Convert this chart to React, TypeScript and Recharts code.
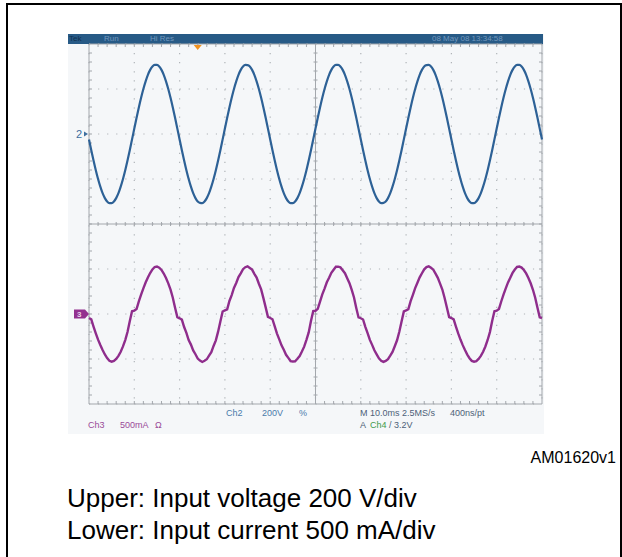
import React from "react";
import {
  LineChart,
  Line,
  XAxis,
  YAxis,
  CartesianGrid,
  ReferenceLine,
  ReferenceDot,
} from "recharts";

// sampling step of both traces, ms
const SAMPLE_MS = 0.5;

// time axis: 10 ms/div, 10 divisions
const TIME_TICKS = [0, 10, 20, 30, 40, 50, 60, 70, 80, 90, 100];

// Ch2, input voltage (V), every 0.5 ms
const VOLTAGE = [
  -24, -72, -118, -161, -200, -234, -263, -285, -300, -307, -307, -300, -285, -263, -234, -200, -161, -118, -72, -24,
  24, 72, 118, 161, 200, 234, 263, 285, 300, 307, 307, 300, 285, 263, 234, 200, 161, 118, 72, 24,
  -24, -72, -118, -161, -200, -234, -263, -285, -300, -306, -307, -300, -285, -263, -234, -200, -161, -118, -72, -24,
  24, 72, 118, 161, 200, 234, 263, 285, 300, 307, 306, 300, 285, 263, 234, 200, 161, 118, 72, 24,
  -24, -72, -118, -161, -200, -234, -263, -285, -300, -307, -307, -300, -285, -263, -234, -200, -161, -118, -72, -24,
  24, 72, 118, 161, 200, 234, 263, 285, 300, 307, 307, 300, 285, 263, 234, 200, 161, 118, 72, 24,
  -24, -72, -118, -161, -200, -234, -263, -285, -300, -307, -306, -300, -285, -263, -234, -200, -161, -118, -72, -24,
  24, 72, 118, 161, 200, 234, 263, 285, 300, 306, 307, 300, 285, 263, 234, 200, 161, 118, 72, 24,
  -24, -72, -118, -161, -200, -234, -263, -285, -300, -307, -307, -300, -285, -263, -234, -200, -161, -118, -72, -24,
  24, 72, 118, 161, 200, 234, 263, 285, 300, 307, 307, 300, 285, 263, 234, 200, 161, 118, 72, 24,
  -24,
];

// Ch3, input current (mA), lower trace, with the small steps at the zero crossings
const CURRENT = [
  -45, -60, -140, -215, -285, -345, -400, -450, -490, -520, -530, -522, -500, -465, -420, -360, -290, -200, -80, 30,
  38, 55, 140, 215, 285, 350, 405, 455, 495, 522, 528, 515, 490, 450, 400, 340, 270, 180, 70, -35,
  -48, -62, -145, -210, -290, -340, -405, -447, -495, -518, -533, -520, -503, -462, -424, -355, -293, -196, -84, 28,
  40, 52, 145, 210, 290, 345, 410, 452, 498, 520, 530, 512, 493, 446, 404, 336, 274, 176, 74, -32,
  -44, -58, -138, -218, -282, -348, -398, -453, -488, -523, -528, -525, -498, -468, -417, -363, -287, -204, -77, 33,
  36, 58, 137, 218, 282, 353, 402, 458, 492, 525, 526, 518, 487, 453, 397, 343, 267, 183, 67, -38,
  -47, -61, -142, -213, -288, -343, -403, -448, -493, -519, -532, -521, -502, -463, -422, -358, -292, -198, -82, 29,
  39, 54, 142, 213, 288, 348, 407, 453, 496, 521, 529, 514, 492, 448, 402, 338, 272, 178, 72, -34,
  -45, -60, -140, -216, -284, -346, -401, -451, -491, -521, -530, -523, -499, -466, -419, -361, -289, -201, -79, 31,
  37, 56, 139, 216, 284, 351, 404, 456, 494, 523, 527, 516, 489, 451, 399, 341, 269, 181, 69, -36,
  -45,
];

// 200 V/div with ground two divisions above centre, 500 mA/div two below
const VOLT_DOMAIN = [-1200, 400];
const VOLT_TICKS = [-1200, -1000, -800, -600, -400, -200, 0, 200, 400];
const AMP_DOMAIN = [-1000, 3000];
const TRIGGER_MS = 24;

const data = VOLTAGE.map((v, i) => ({
  t: i * SAMPLE_MS,
  v,
  i: CURRENT[i],
}));

const SCOPE_FONT = "'Liberation Sans', Arial, sans-serif";

// graticule line with small tick marks every 1/5 div
const ruled =
  (n: number, from: number, to: number) =>
  (p: any) => {
    const { x1, y1, x2, y2 } = p;
    const horiz = Math.abs(x2 - x1) > Math.abs(y2 - y1);
    const marks = [];
    for (let k = 1; k < n; k++) {
      const x = x1 + ((x2 - x1) * k) / n;
      const y = y1 + ((y2 - y1) * k) / n;
      marks.push(
        horiz ? (
          <line key={k} x1={x} x2={x} y1={y + from} y2={y + to} />
        ) : (
          <line key={k} x1={x + from} x2={x + to} y1={y} y2={y} />
        )
      );
    }
    return (
      <g stroke="#a3a7ac" strokeWidth={1}>
        <line x1={x1} y1={y1} x2={x2} y2={y2} />
        {marks}
      </g>
    );
  };

const Ch2Marker = (props: any) => {
  const { x, y } = props.viewBox;
  return (
    <g>
      <text x={x - 13} y={y + 4} fontSize={11} fill="#3d6e9e" fontFamily={SCOPE_FONT}>
        2
      </text>
      <path d={`M${x - 5},${y - 2.5} L${x - 1},${y} L${x - 5},${y + 2.5} Z`} fill="#3d6e9e" />
    </g>
  );
};

const Ch3Marker = (props: any) => {
  const { x, y } = props.viewBox;
  return (
    <g>
      <path
        d={`M${x - 15},${y - 4.5} L${x - 4},${y - 4.5} L${x},${y} L${x - 4},${y + 4.5} L${x - 15},${y + 4.5} Z`}
        fill="#93308f"
      />
      <text x={x - 12} y={y + 3} fontSize={8} fontWeight="bold" fill="#e9d3e8" fontFamily={SCOPE_FONT}>
        3
      </text>
    </g>
  );
};

const TriggerMark = (p: any) => (
  <path d={`M${p.cx - 4},${p.cy + 1} L${p.cx + 4},${p.cy + 1} L${p.cx},${p.cy + 6} Z`} fill="#f0921f" />
);

const txt = (x: number, y: number, s: string, color: string, size = 9) => (
  <div
    style={{
      position: "absolute",
      left: x,
      top: y,
      fontSize: size,
      color,
      fontFamily: SCOPE_FONT,
      whiteSpace: "nowrap",
      lineHeight: 1,
    }}
  >
    {s}
  </div>
);

export default function App() {
  return (
    <div
      style={{
        position: "absolute",
        left: 0,
        top: 0,
        width: 622,
        height: 557,
        background: "#ffffff",
        overflow: "hidden",
      }}
    >
      {/* figure frame */}
      <div
        style={{
          position: "absolute",
          left: 6,
          top: 3,
          width: 612,
          height: 570,
          borderLeft: "2px solid #000",
          borderTop: "2px solid #000",
          borderRight: "2px solid #000",
        }}
      />

      {/* scope screen */}
      <div style={{ position: "absolute", left: 68, top: 34, width: 476, height: 400, background: "#f5f7f9" }} />
      <div style={{ position: "absolute", left: 68, top: 34, width: 475, height: 10, background: "#275a86" }} />
      {txt(69, 35, "Tek", "#10304f", 8)}
      {txt(104, 35, "Run", "#7398bd", 8)}
      {txt(150, 35, "Hi Res", "#7398bd", 8)}
      {txt(432, 35, "08 May 08 13:34:58", "#7398bd", 8)}

      <div style={{ position: "absolute", left: 68, top: 34 }}>
        <LineChart
          width={476}
          height={400}
          data={data}
          margin={{ top: 10, right: 2, left: 21, bottom: 30 }}
        >
          <XAxis dataKey="t" type="number" domain={[0, 100]} ticks={TIME_TICKS} hide />
          <YAxis yAxisId="v" type="number" domain={VOLT_DOMAIN} ticks={VOLT_TICKS} hide />
          <YAxis yAxisId="i" type="number" domain={AMP_DOMAIN} hide />
          <CartesianGrid
            yAxisId="v"
            stroke="#b0b4b8"
            strokeWidth={1.2}
            strokeDasharray="1.2 7.86"
          />
          <ReferenceLine yAxisId="v" y={400} shape={ruled(50, 0, 3)} />
          <ReferenceLine yAxisId="v" y={-1200} shape={ruled(50, -3, 0)} />
          <ReferenceLine yAxisId="v" y={-400} shape={ruled(50, -2, 2)} />
          <ReferenceLine yAxisId="v" x={0} shape={ruled(40, 0, 3)} />
          <ReferenceLine yAxisId="v" x={100} shape={ruled(40, -3, 0)} />
          <ReferenceLine yAxisId="v" x={50} shape={ruled(40, -2, 2)} />
          <ReferenceLine yAxisId="v" y={0} strokeOpacity={0} label={<Ch2Marker />} ifOverflow="visible" />
          <ReferenceLine yAxisId="i" y={0} strokeOpacity={0} label={<Ch3Marker />} ifOverflow="visible" />
          <ReferenceDot yAxisId="v" x={TRIGGER_MS} y={400} shape={<TriggerMark />} ifOverflow="visible" />
          <Line
            yAxisId="v"
            dataKey="v"
            type="monotone"
            stroke="#2d6196"
            strokeWidth={2.2}
            dot={false}
            isAnimationActive={false}
          />
          <Line
            yAxisId="i"
            dataKey="i"
            type="linear"
            stroke="#8f2d8c"
            strokeWidth={2.4}
            dot={false}
            isAnimationActive={false}
          />
        </LineChart>
      </div>

      {/* readouts under the graticule */}
      {txt(226, 409, "Ch2", "#4a7aab")}
      {txt(262, 409, "200V", "#4a7aab")}
      {txt(299, 409, "%", "#4a7aab")}
      {txt(360, 409, "M 10.0ms 2.5MS/s", "#4d5f78")}
      {txt(450, 409, "400ns/pt", "#4d5f78")}
      {txt(88, 421, "Ch3", "#9a4a98")}
      {txt(120, 421, "500mA", "#9a4a98")}
      {txt(155, 421, "\u03a9", "#9a4a98")}
      {txt(360, 421, "A", "#4d5f78")}
      <div style={{ position: "absolute", left: 370, top: 421, fontSize: 9, fontFamily: SCOPE_FONT, whiteSpace: "nowrap", lineHeight: 1 }}>
        <span style={{ color: "#3f9a4a" }}>Ch4</span>
        <span style={{ color: "#4d5f78" }}>{"  /  3.2V"}</span>
      </div>

      {/* figure id and caption */}
      <div
        style={{
          position: "absolute",
          right: 6,
          top: 450,
          fontSize: 16,
          fontFamily: "'Liberation Sans', Arial, sans-serif",
          color: "#000",
          lineHeight: 1,
        }}
      >
        AM01620v1
      </div>
      <div
        style={{
          position: "absolute",
          left: 67,
          top: 482,
          fontSize: 26,
          fontFamily: "'Liberation Sans', Arial, sans-serif",
          color: "#000",
          lineHeight: "32px",
          whiteSpace: "nowrap",
        }}
      >
        <div>Upper: Input voltage 200 V/div</div>
        <div>Lower: Input current 500 mA/div</div>
      </div>
    </div>
  );
}
